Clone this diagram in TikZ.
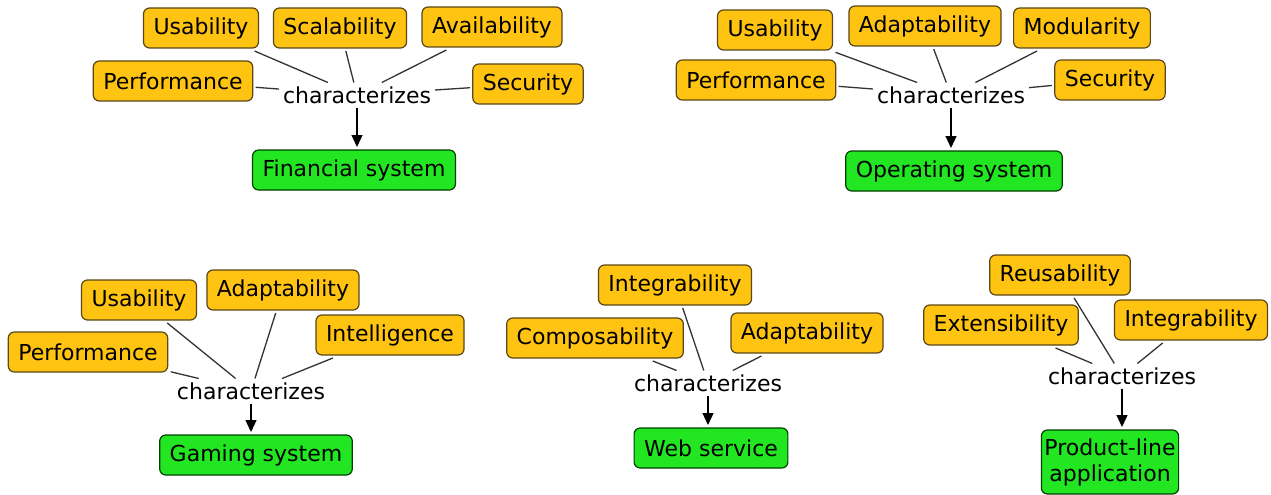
\documentclass[tikz,border=0pt]{standalone}
\usepackage{fontspec}
\setmainfont{DejaVu Sans}
\usepackage{xcolor}
\usepackage{tikz}
\usetikzlibrary{positioning,calc,arrows.meta}
\definecolor{qualfill}{HTML}{FFC312}
\definecolor{sysfill}{HTML}{22E622}
\definecolor{boxline}{HTML}{5A4818}
\definecolor{linkgray}{HTML}{333333}

\begin{document}
\begin{tikzpicture}[x=1pt, y=-1pt,
    font=\fontsize{22}{26}\selectfont,
    quality/.style={draw=boxline, fill=qualfill, line width=1.2pt, rounded corners=6pt,
        minimum height=40pt, inner xsep=10pt, outer sep=3pt},
    system/.style={quality, fill=sysfill, draw=black!75!green},
    verb/.style={inner sep=2pt, outer sep=2pt},
    link/.style={draw=linkgray, line width=1.3pt},
    arr/.style={link, draw=black, -{Triangle[length=12pt, width=11pt]}}]
        \useasboundingbox (0,0) rectangle (1271,495);

        % Financial system
        \node[quality] (fu) at (201,28) {Usability};
        \node[quality] (fs) at (340,28) {Scalability};
        \node[quality] (fa) at (492,27) {Availability};
        \node[quality] (fp) at (173,81) {Performance};
        \node[quality] (fc) at (528,84) {Security};
        \node[verb] (fchar) at (357,95) {characterizes};
        \node[system] (fin) at (354,170) {Financial system};
        \foreach \q in {fu,fs,fa,fp,fc} {
            \draw[link] (\q) -- (fchar);
        }
        \draw[arr] (fchar.south) -- (fchar.south |- fin.north);

        % Operating system
        \node[quality] (ou) at (775,30) {Usability};
        \node[quality] (oa) at (925,26) {Adaptability};
        \node[quality] (om) at (1082,28) {Modularity};
        \node[quality] (op) at (756,80) {Performance};
        \node[quality] (oc) at (1110,80) {Security};
        \node[verb] (ochar) at (951,95) {characterizes};
        \node[system] (os) at (954,171) {Operating system};
        \foreach \q in {ou,oa,om,op,oc} {
            \draw[link] (\q) -- (ochar);
        }
        \draw[arr] (ochar.south) -- (ochar.south |- os.north);

        % Gaming system
        \node[quality] (gu) at (139,300) {Usability};
        \node[quality] (ga) at (283,290) {Adaptability};
        \node[quality] (gi) at (390,335) {Intelligence};
        \node[quality] (gp) at (88,352) {Performance};
        \node[verb] (gchar) at (251,391) {characterizes};
        \node[system] (gs) at (256,455) {Gaming system};
        \foreach \q in {gu,ga,gi,gp} {
            \draw[link] (\q) -- (gchar);
        }
        \draw[arr] (gchar.south) -- (gchar.south |- gs.north);

        % Web service
        \node[quality] (wi) at (675,285) {Integrability};
        \node[quality] (wc) at (595,338) {Composability};
        \node[quality] (wa) at (807,333) {Adaptability};
        \node[verb] (wchar) at (708,383) {characterizes};
        \node[system] (ws) at (711,448) {Web service};
        \foreach \q in {wi,wc,wa} {
            \draw[link] (\q) -- (wchar);
        }
        \draw[arr] (wchar.south) -- (wchar.south |- ws.north);

        % Product-line application
        \node[quality] (pr) at (1060,275) {Reusability};
        \node[quality] (pe) at (1001,325) {Extensibility};
        \node[quality] (pi) at (1191,320) {Integrability};
        \node[verb] (pchar) at (1122,376) {characterizes};
        \node[system, align=center, inner xsep=3pt, minimum height=64pt] (pla) at (1110,462) {Product-line\\application};
        \foreach \q in {pr,pe,pi} {
            \draw[link] (\q) -- (pchar);
        }
        \draw[arr] (pchar.south) -- (pchar.south |- pla.north);
    \end{tikzpicture}
\end{document}
